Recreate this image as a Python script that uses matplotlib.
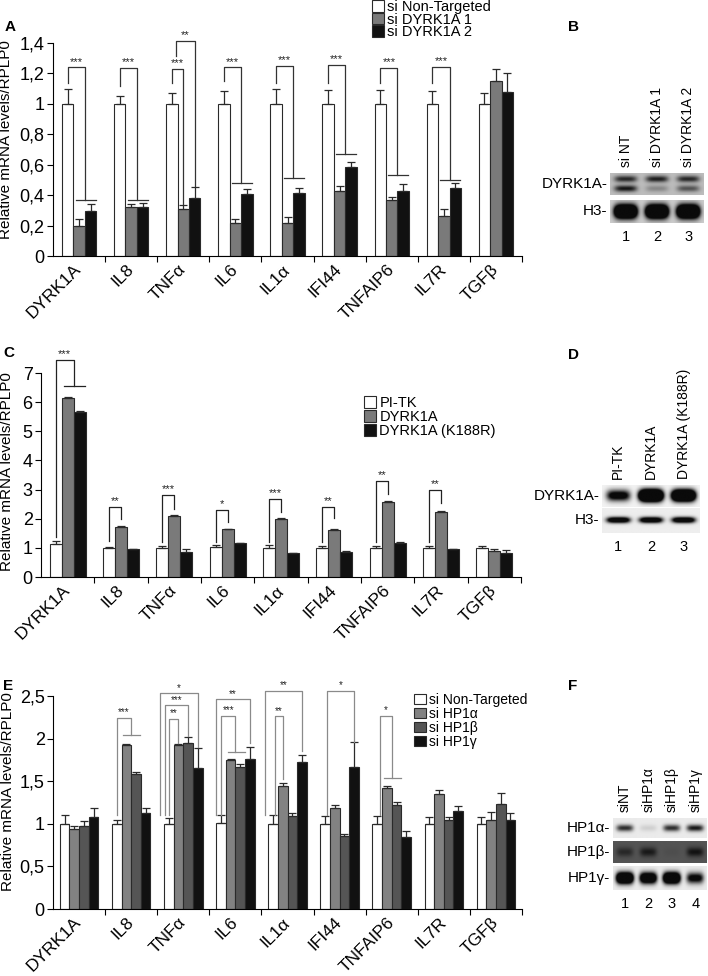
import matplotlib.pyplot as plt
import numpy as np
from matplotlib.ticker import FuncFormatter, MultipleLocator, FixedLocator
from matplotlib.patches import Patch
from matplotlib.transforms import ScaledTranslation

plt.rcParams['font.family'] = ['Liberation Sans', 'DejaVu Sans']

genes = ["DYRK1A", "IL8", "TNFα", "IL6", "IL1α", "IFI44", "TNFAIP6", "IL7R", "TGFβ"]

# panel A: DYRK1A knockdown
a_labels = ["si Non-Targeted", "si DYRK1A 1", "si DYRK1A 2"]
a_nt = [1.0, 1.0, 1.0, 1.0, 1.0, 1.0, 1.0, 1.0, 1.0]
a_nt_err = [0.10, 0.05, 0.07, 0.085, 0.10, 0.09, 0.088, 0.083, 0.07]
a_si1 = [0.20, 0.32, 0.31, 0.22, 0.22, 0.43, 0.37, 0.26, 1.15]
a_si1_err = [0.04, 0.02, 0.025, 0.02, 0.035, 0.03, 0.02, 0.046, 0.08]
a_si2 = [0.295, 0.32, 0.38, 0.405, 0.415, 0.585, 0.43, 0.45, 1.08]
a_si2_err = [0.05, 0.03, 0.075, 0.035, 0.035, 0.035, 0.04, 0.03, 0.125]
# (gene, left bar, right bars, left leg bottom, top, right leg bottom, stars, left shift)
a_sig = [(0, 0, (1, 2), 1.14, 1.24, 0.37, "***", 0),
         (1, 0, (1, 2), 1.12, 1.235, 0.37, "***", 0),
         (2, 0, (1,), 1.14, 1.23, 0.345, "***", 0),
         (2, 0, (2,), 1.316, 1.414, 0.46, "**", 0.08),
         (3, 0, (1, 2), 1.15, 1.24, 0.48, "***", 0),
         (4, 0, (1, 2), 1.14, 1.25, 0.51, "***", 0),
         (5, 0, (1, 2), 1.14, 1.255, 0.67, "***", 0),
         (6, 0, (1, 2), 1.14, 1.235, 0.535, "***", 0),
         (7, 0, (1, 2), 1.14, 1.245, 0.50, "***", 0)]

# panel C: DYRK1A overexpression
c_labels = ["PI-TK", "DYRK1A", "DYRK1A (K188R)"]
c_pitk = [1.12, 1.0, 1.0, 1.03, 1.0, 1.0, 1.0, 1.0, 1.0]
c_pitk_err = [0.10, 0.03, 0.08, 0.07, 0.10, 0.08, 0.08, 0.08, 0.07]
c_wt = [6.15, 1.73, 2.10, 1.63, 1.98, 1.62, 2.58, 2.22, 0.90]
c_wt_err = [0.03, 0.02, 0.02, 0.02, 0.03, 0.02, 0.02, 0.04, 0.06]
c_kr = [5.65, 0.96, 0.87, 1.15, 0.82, 0.87, 1.18, 0.95, 0.84]
c_kr_err = [0.03, 0.01, 0.08, 0.02, 0.01, 0.01, 0.02, 0.01, 0.10]
c_sig = [(0, 0, (1, 2), 1.37, 7.46, 6.54, "***", 0),
         (1, 0, (1,), 1.22, 2.40, 1.99, "**", 0),
         (2, 0, (1,), 1.20, 2.83, 2.35, "***", 0),
         (3, 0, (1,), 1.20, 2.31, 1.89, "*", 0),
         (4, 0, (1,), 1.20, 2.69, 2.23, "***", 0),
         (5, 0, (1,), 1.20, 2.41, 2.02, "**", 0),
         (6, 0, (1,), 1.20, 3.30, 2.85, "**", 0),
         (7, 0, (1,), 1.20, 3.00, 2.55, "**", 0)]

# panel E: HP1 knockdown
e_labels = ["si Non-Targeted", "si HP1α", "si HP1β", "si HP1γ"]
e_nt = [1.0, 1.0, 1.0, 1.01, 1.0, 1.0, 1.0, 1.0, 1.0]
e_nt_err = [0.10, 0.04, 0.07, 0.09, 0.10, 0.09, 0.09, 0.08, 0.08]
e_a = [0.94, 1.92, 1.92, 1.75, 1.44, 1.18, 1.42, 1.35, 1.05]
e_a_err = [0.03, 0.015, 0.02, 0.01, 0.04, 0.04, 0.02, 0.05, 0.09]
e_b = [0.98, 1.585, 1.945, 1.667, 1.095, 0.857, 1.22, 1.04, 1.23]
e_b_err = [0.05, 0.02, 0.07, 0.03, 0.03, 0.027, 0.04, 0.04, 0.13]
e_g = [1.08, 1.13, 1.655, 1.765, 1.72, 1.67, 0.84, 1.146, 1.04]
e_g_err = [0.10, 0.06, 0.24, 0.14, 0.09, 0.29, 0.08, 0.06, 0.09]
e_sig = [(1, 0, (1, 2), 1.10, 2.245, 2.04, "***", 0),
         (2, 0, (1,), 1.10, 2.23, 1.95, "**", 0),
         (2, 0, (2,), 1.10, 2.39, 2.03, "***", -0.08),
         (2, 0, (3,), 1.10, 2.53, 1.90, "*", -0.16),
         (3, 0, (1, 2), 1.10, 2.27, 1.84, "***", 0),
         (3, 0, (3,), 1.10, 2.46, 1.95, "**", -0.10),
         (4, 0, (1,), 1.10, 2.26, 1.53, "**", 0.03),
         (4, 0, (3,), 1.10, 2.56, 1.85, "**", -0.15),
         (5, 0, (3,), 1.10, 2.56, 1.96, "*", 0.03),
         (6, 0, (1, 2), 1.10, 2.27, 1.54, "*", 0.05)]

# western blots: band darkness per lane
b_lanes = ["si NT", "si DYRK1A 1", "si DYRK1A 2"]
b_dyrk_upper = [0.85, 0.9, 0.85]
b_dyrk_lower = [0.95, 0.3, 0.6]
b_h3 = [3.0, 3.0, 3.0]
d_lanes = ["PI-TK", "DYRK1A", "DYRK1A (K188R)"]
d_dyrk = [1.3, 3.5, 3.0]
d_h3 = [1.6, 1.6, 1.6]
f_lanes = ["siNT", "siHP1α", "siHP1β", "siHP1γ"]
f_hp1a = [0.85, 0.12, 0.85, 0.95]
f_hp1b = [0.6, 0.8, 0.08, 0.9]
f_hp1g = [2.5, 2.0, 2.5, 1.2]

W, H = 708, 976
fig = plt.figure(figsize=(W / 100, H / 100), dpi=100)


def box(x0, y0, x1, y1):
    return [x0 / W, 1 - y1 / H, (x1 - x0) / W, (y1 - y0) / H]


def comma(v, pos):
    return ("%g" % round(v, 2)).replace(".", ",")


def bar_panel(ax, series, errs, colors, width, ymax, ystep):
    x = np.arange(len(genes)) + 0.5
    n = len(series)
    handles = []
    for k, (vals, err, col) in enumerate(zip(series, errs, colors)):
        off = (k - (n - 1) / 2) * width
        ax.bar(x + off, vals, width, color=col, edgecolor="#2a2a2a", linewidth=0.8,
               yerr=[np.zeros(len(vals)), err],
               error_kw=dict(ecolor="#2a2a2a", elinewidth=0.9, capsize=3, capthick=0.9))
        handles.append(Patch(facecolor=col, edgecolor="#2a2a2a", linewidth=0.8))
    ax.set_xlim(0, len(genes))
    ax.set_ylim(0, ymax)
    ax.yaxis.set_major_locator(MultipleLocator(ystep))
    ax.yaxis.set_major_formatter(FuncFormatter(comma))
    ax.set_xticks(x)
    ax.set_xticklabels(genes, rotation=45, ha="right", va="center", rotation_mode="anchor")
    shift = ScaledTranslation(3 / 100, 0, fig.dpi_scale_trans)
    for lbl in ax.get_xticklabels():
        lbl.set_transform(lbl.get_transform() + shift)
    ax.xaxis.set_minor_locator(FixedLocator(np.arange(1, len(genes) + 1)))
    ax.tick_params(axis="x", which="major", length=0, pad=8, labelsize=12.5)
    ax.tick_params(axis="x", which="minor", length=4, width=0.8, direction="out")
    ax.tick_params(axis="y", length=4, width=0.8, labelsize=13, pad=2)
    for s in ["top", "right"]:
        ax.spines[s].set_visible(False)
    for s in ["left", "bottom"]:
        ax.spines[s].set_linewidth(0.8)
    ax.set_ylabel("Relative mRNA levels/RPLP0", fontsize=11)
    return handles


def bracket(ax, spec, n, width, color, fs):
    gi, left, rights, yl, yt, yr, label, dx = spec
    pos = lambda k: gi + 0.5 + (k - (n - 1) / 2) * width
    xl = pos(left) + dx
    if len(rights) > 1:
        xr = (pos(rights[0]) + pos(rights[-1])) / 2
        ax.plot([pos(rights[0]) - 0.3 * width, pos(rights[-1]) + 0.45 * width], [yr, yr],
                color=color, lw=0.9, clip_on=False)
    else:
        xr = pos(rights[0])
    ax.plot([xl, xl, xr, xr], [yl, yt, yt, yr], color=color, lw=0.9, clip_on=False)
    ax.annotate(label, ((xl + xr) / 2, yt), xytext=(0, 0.5), textcoords="offset points",
                ha="center", va="bottom", fontsize=fs, color="#222", annotation_clip=False)


def blot(ax, rows, centers, sigmas, bg, lane_w=0.72):
    lanes = len(rows[0])
    yy, xx = np.mgrid[0:1:80j, 0:lanes:300j]
    dark = np.zeros_like(xx)
    for row, c, s in zip(rows, centers, sigmas):
        for i, v in enumerate(row):
            px = np.exp(-(np.abs(xx - (i + 0.5)) / (lane_w / 2)) ** 4)
            py = np.exp(-0.5 * ((yy - c) / s) ** 2)
            dark += v * px * py
    img = bg - (bg - 0.04) * np.clip(dark, 0, 1)
    ax.imshow(img, cmap="gray", vmin=0, vmax=1, extent=(0, lanes, 1, 0),
              aspect="auto", interpolation="bilinear")
    ax.set_xlim(0, lanes)
    ax.set_ylim(1, 0)
    ax.set_xticks([])
    ax.set_yticks([])
    for s in ax.spines.values():
        s.set_visible(False)


def lane_labels(ax, labels):
    for i, lab in enumerate(labels):
        ax.annotate(lab, (i + 0.5, 1), xycoords=("data", "axes fraction"), xytext=(0, 4),
                    textcoords="offset points", rotation=90, ha="center", va="bottom", fontsize=10)


def lane_numbers(ax, n):
    for i in range(n):
        ax.annotate(str(i + 1), (i + 0.5, 0), xycoords=("data", "axes fraction"), xytext=(0, -5),
                    textcoords="offset points", ha="center", va="top", fontsize=10.5)


def row_label(ax, text):
    ax.annotate(text, (0, 0.5), xycoords="axes fraction", xytext=(-2, 0),
                textcoords="offset points", ha="right", va="center", fontsize=11)


# ---- A ----
axA = fig.add_axes(box(53, 43, 522, 256))
hA = bar_panel(axA, [a_nt, a_si1, a_si2], [a_nt_err, a_si1_err, a_si2_err],
               ["white", "#7a7a7a", "#111111"], 0.22, 1.4, 0.2)
for spec in a_sig:
    bracket(axA, spec, 3, 0.22, "#333", 8)
axA.yaxis.set_label_coords(-0.085, 0.545)
fig.legend(hA, a_labels, loc="upper left", bbox_to_anchor=(372 / W, 1.0), frameon=False,
           fontsize=10.5, handlelength=0.85, handleheight=0.85, handletextpad=0.2,
           labelspacing=-0.1, borderpad=0, borderaxespad=0)

# ---- C ----
axC = fig.add_axes(box(41, 373, 521, 577))
hC = bar_panel(axC, [c_pitk, c_wt, c_kr], [c_pitk_err, c_wt_err, c_kr_err],
               ["white", "#7a7a7a", "#111111"], 0.225, 7, 1)
for spec in c_sig:
    bracket(axC, spec, 3, 0.225, "#222", 8)
axC.yaxis.set_label_coords(-0.056, 0.515)
fig.legend(hC, c_labels, loc="upper left", bbox_to_anchor=(364 / W, 1 - 396 / H), frameon=False,
           fontsize=10.5, handlelength=0.85, handleheight=0.85, handletextpad=0.2,
           labelspacing=0.0, borderpad=0, borderaxespad=0)

# ---- E ----
axE = fig.add_axes(box(53, 696, 522, 909))
hE = bar_panel(axE, [e_nt, e_a, e_b, e_g], [e_nt_err, e_a_err, e_b_err, e_g_err],
               ["white", "#828282", "#555555", "#111111"], 0.185, 2.5, 0.5)
for spec in e_sig:
    bracket(axE, spec, 4, 0.185, "#8a8a8a", 7)
axE.yaxis.set_label_coords(-0.082, 0.55)
fig.legend(hE, e_labels, loc="upper left", bbox_to_anchor=(414 / W, 1 - 693 / H), frameon=False,
           fontsize=10, handlelength=0.85, handleheight=0.8, handletextpad=0.2,
           labelspacing=0.0, borderpad=0, borderaxespad=0)

# ---- B ----
axB1 = fig.add_axes(box(610, 173, 704, 195))
blot(axB1, [b_dyrk_upper, b_dyrk_lower], [0.3, 0.72], [0.1, 0.1], 0.74)
axB2 = fig.add_axes(box(610, 200, 704, 223))
blot(axB2, [b_h3], [0.5], [0.2], 0.8)
lane_labels(axB1, b_lanes)
lane_numbers(axB2, 3)
row_label(axB1, "DYRK1A-")
row_label(axB2, "H3-")

# ---- D ----
axD1 = fig.add_axes(box(602, 485, 700, 507))
blot(axD1, [d_dyrk], [0.5], [0.17], 0.95)
axD2 = fig.add_axes(box(602, 508, 700, 533))
blot(axD2, [d_h3], [0.5], [0.08], 0.93)
lane_labels(axD1, d_lanes)
lane_numbers(axD2, 3)
row_label(axD1, "DYRK1A-")
row_label(axD2, "H3-")

# ---- F ----
axF1 = fig.add_axes(box(613, 818, 707, 838))
blot(axF1, [f_hp1a], [0.5], [0.12], 0.92)
axF2 = fig.add_axes(box(613, 841, 707, 863))
blot(axF2, [f_hp1b], [0.5], [0.15], 0.33)
axF3 = fig.add_axes(box(613, 866, 707, 890))
blot(axF3, [f_hp1g], [0.5], [0.16], 0.92)
lane_labels(axF1, f_lanes)
lane_numbers(axF3, 4)
row_label(axF1, "HP1α-")
row_label(axF2, "HP1β-")
row_label(axF3, "HP1γ-")

# panel letters
for letter, px, py in [("A", 5, 27), ("B", 568, 27), ("C", 3, 353),
                       ("D", 568, 355), ("E", 3, 686), ("F", 568, 686)]:
    fig.text(px / W, 1 - py / H, letter, fontsize=11, fontweight="bold", va="center")

fig.savefig("out.png", dpi=100)
